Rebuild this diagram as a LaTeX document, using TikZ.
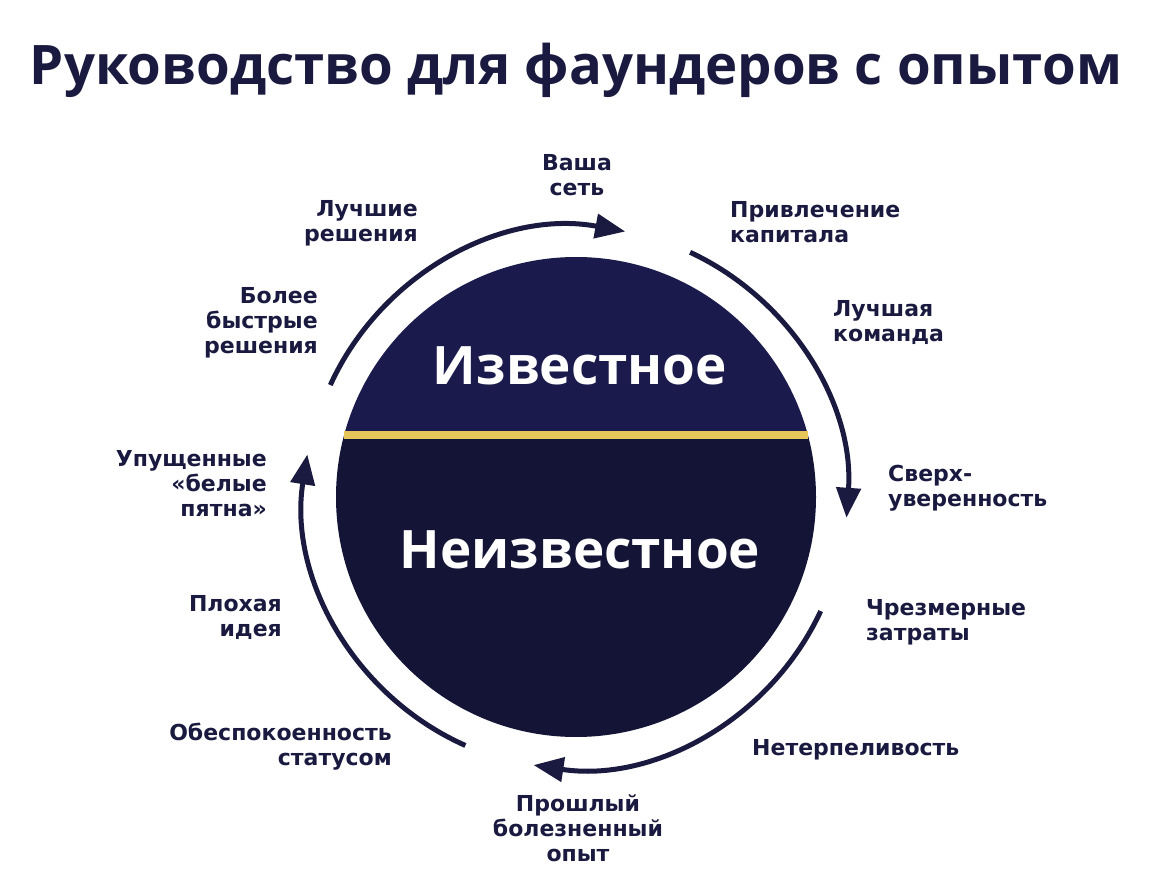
\documentclass[tikz,border=0pt]{standalone}
\usepackage{fontspec}
\setmainfont{Open Sans}
\newfontfamily\lblfont{DejaVu Sans}
\usetikzlibrary{arrows.meta}
\definecolor{ink}{HTML}{1A1A40}
\definecolor{topc}{HTML}{1A1A4C}
\definecolor{botc}{HTML}{141436}
\definecolor{gold}{HTML}{E6C65A}
\begin{document}
\begin{tikzpicture}[x=1pt,y=-1pt,
  lbl/.style={font=\lblfont\fontsize{22}{25}\selectfont\bfseries,text=ink,inner sep=0pt},
  arr/.style={draw=ink,line width=5pt,-{Triangle[length=30pt,width=24pt]}}]
\useasboundingbox (0,0) rectangle (1152,882);
\fill[white] (0,0) rectangle (1152,882);
\node[font=\fontsize{54.5}{60}\selectfont\bfseries,text=ink] (title) at (576,70) {Руководство для фаундеров с опытом};
\coordinate (c) at (576,497);
\begin{scope}
\clip (c) circle (240);
\fill[topc] (300,240) rectangle (860,435);
\fill[botc] (300,435) rectangle (860,760);
\end{scope}
\draw[gold,line width=8pt] (344,435) -- (808,435);
\node[font=\fontsize{53}{60}\selectfont\bfseries,text=white] (known) at (580,366) {Известное};
\node[font=\fontsize{53}{60}\selectfont\bfseries,text=white] (unknown) at (580,550) {Неизвестное};
\draw[arr] ([shift={(-155.5:270)}]c) arc[start angle=-155.5,end angle=-79.5,radius=270];
\draw[arr] ([shift={(-65:270)}]c) arc[start angle=-65,end angle=4,radius=272];
\draw[arr] ([shift={(25:270)}]c) arc[start angle=25,end angle=98.6,radius=272];
\draw[arr] ([shift={(114:272)}]c) arc[start angle=114,end angle=189,radius=272];
\node[lbl,align=center] (l1) at (577,175) {Ваша\\сеть};
\node[lbl,align=left,anchor=west] (l2) at (730,222) {Привлечение\\капитала};
\node[lbl,align=left,anchor=west] (l3) at (833,323) {Лучшая\\команда};
\node[lbl,align=left,anchor=west] (l4) at (888,488) {Сверх-\\уверенность};
\node[lbl,align=left,anchor=west] (l5) at (866,622) {Чрезмерные\\затраты};
\node[lbl,align=left,anchor=west] (l6) at (752,750) {Нетерпеливость};
\node[lbl,align=center] (l7) at (578,828) {Прошлый\\болезненный\\опыт};
\node[lbl,align=right,anchor=east] (l8) at (392,747) {Обеспокоенность\\статусом};
\node[lbl,align=right,anchor=east] (l9) at (282,618) {Плохая\\идея};
\node[lbl,align=right,anchor=east] (l10) at (267,484) {Упущенные\\«белые\\пятна»};
\node[lbl,align=right,anchor=east] (l11) at (318,323) {Более\\быстрые\\решения};
\node[lbl,align=right,anchor=east] (l12) at (418,223) {Лучшие\\решения};
\end{tikzpicture}
\end{document}
